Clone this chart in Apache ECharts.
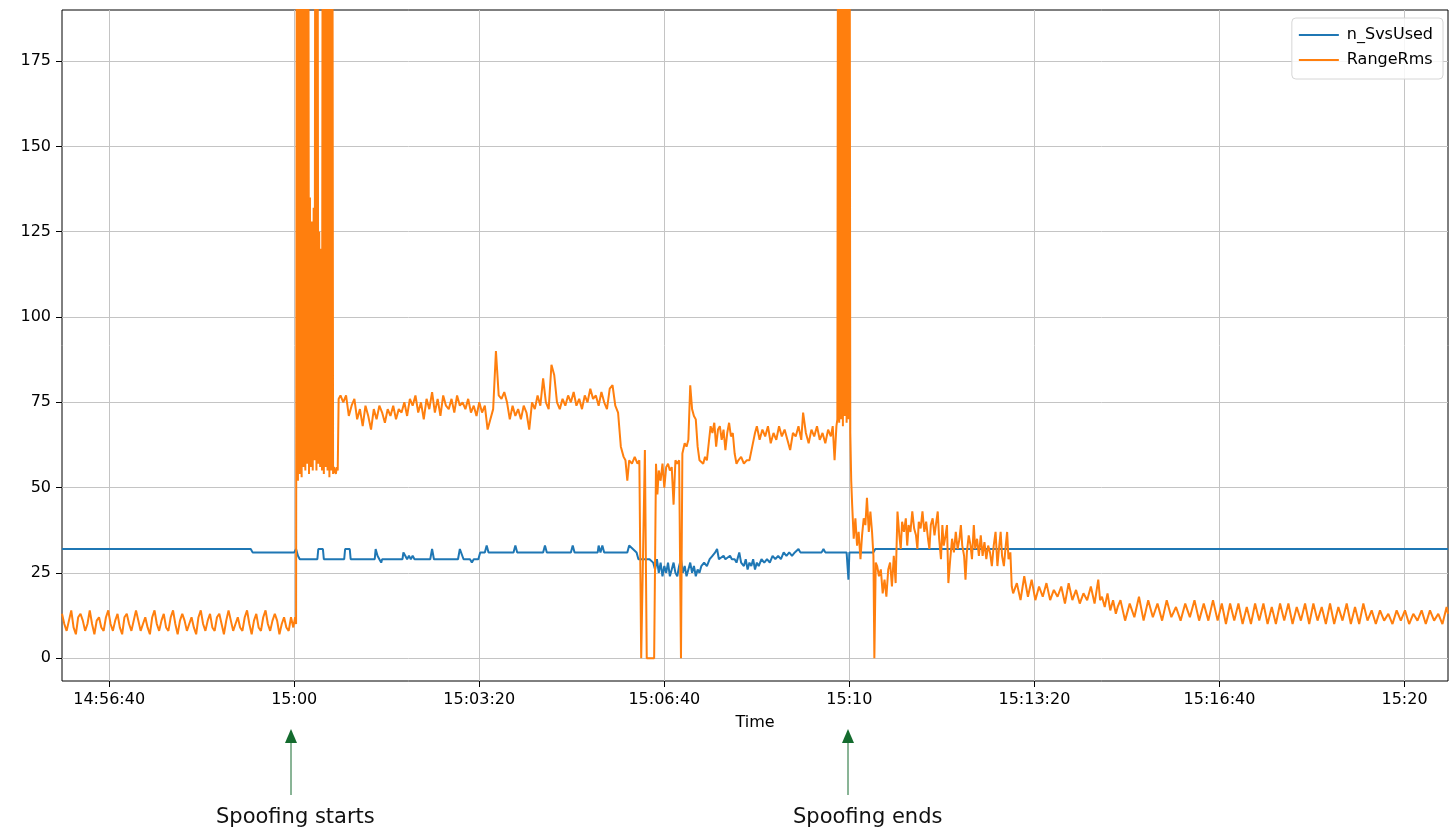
<!DOCTYPE html>
<html><head><meta charset="utf-8">
<script src="https://cdn.jsdelivr.net/npm/echarts@6/dist/echarts.min.js"></script>
<style>html,body{margin:0;padding:0;background:#fff}#c{width:1450px;height:829px}</style>
</head><body><div id="c"></div>
<script>
// Time is in seconds relative to 15:00:00
const xTickValues = [-200, 0, 200, 400, 600, 800, 1000, 1200];
const xTickLabels = ['14:56:40', '15:00', '15:03:20', '15:06:40', '15:10', '15:13:20', '15:16:40', '15:20'];
const yTickValues = [0, 25, 50, 75, 100, 125, 150, 175];
const seriesNames = ['n_SvsUsed', 'RangeRms'];
const annotations = [
  { label: 'Spoofing starts', t: -4 },
  { label: 'Spoofing ends', t: 599 }
];

// n_SvsUsed : [t, value]
const svsUsed = [
  [-251,32],[-47,32],[-45,31],[0,31],[2,32],[4,30],[6,29],
  [25,29],[26,32],[31,32],[32,29],
  [54,29],[55,32],[60,32],[61,29],
  [87,29],[88,32],[90,30],[92,29],[94,28],[95,29],
  [117,29],[118,31],[120,30],[122,29],[124,30],[126,29],[128,30],[130,29],
  [147,29],[149,32],[151,29],
  [177,29],[179,32],[181,32],[183,29],
  [190,29],[192,28],[194,29],[199,29],[201,31],
  [206,31],[208,33],[210,31],
  [237,31],[239,33],[241,31],
  [269,31],[271,33],[273,31],
  [299,31],[301,33],[303,31],
  [328,31],[329,33],[331,31],[333,33],[335,31],
  [360,31],[362,33],[366,32],[370,31],[372,29],
  [384,29],[388,28],[390,26],[392,29],[394,25],[396,28],[398,24],[400,27],[402,25],[404,28],[406,24],[408,26],
  [410,28],[412,25],[414,24],[416,27],[418,29],[420,25],[422,27],[424,24],[426,26],[428,28],[430,25],[432,27],
  [434,24],[436,26],[438,25],[440,27],[443,28],[446,27],[449,29],[452,30],[455,31],[457,32],[459,29],
  [461,29],[464,30],[466,29],[468,29],[471,30],[473,29],[476,29],[478,28],[481,31],[483,28],[486,27],[488,29],
  [490,26],[492,28],[494,27],[496,29],[498,26],[500,28],[502,27],[505,29],[508,28],[511,29],[514,28],[517,30],
  [520,29],[523,30],[526,29],[529,31],[532,30],[535,31],[538,30],[541,31],[545,32],[547,31],
  [570,31],[572,32],[574,31],[597,31],[599,23],[600,31],[626,31],[628,32],[1247,32]
];

// RangeRms, quiet period before spoofing (start, step, values)
const rmsBeforeStart = -251, rmsBeforeStep = 2.5;
const rmsBefore = [
  13,10,8,11, 14,9,7,12, 13,11,8,10, 14,10,7,11, 12,9,8,12, 14,10,8,11, 13,9,7,12, 13,10,8,11, 14,11,8,10, 12,9,7,12,
  14,10,8,11, 13,9,8,12, 14,10,7,11, 13,11,8,10, 12,9,7,12, 14,10,8,11, 13,9,8,12, 13,10,7,11, 14,11,8,10, 12,9,8,12,
  14,10,7,11, 13,9,8,12, 14,10,8,11, 13,11,7,10, 12,9,8,12
];
const rmsOnset = [[-1,9],[1,12],[2,10]];
// spoofing burst
const rmsBurstStart = 3, rmsBurstStep = 1;
const rmsBurst = [300,52,300,54,300,53,300,56,300,55,300,57,300,54,135,56,128,55,132,58,300,55,300,57,125,56,120,55,300,54,300,56,300,55,300,53,300,55,300,54,56,55,54,56,55,76];
// during spoofing
const rmsDuringStart = 50, rmsDuringStep = 3;
const rmsDuring = [77,75,77,71,74,76,70,73,68,74,71,67,73,70,74,72,69,73,71,74,70,73,72,75,71,76,74,77,72,75,70,76,73,78,72,76,71,77,74,73,76,72,77,74,75,73,76,72,74,71,75,
  72,74,67,70,73,90,77,76,78,75,70,74,71,73,70,74,72,67,75,73,77,74,82,75,73,86,83,75,73,76,74,77,75,78,74,76,73,77,75,79,76,77,74,78,75,73,79,80,74,72];
const rmsDrop = [
  [353,62],[356,59],[358,58],[360,52],[362,58],[365,57],[368,59],[371,57],[373,58],[375,0],[377,0],[379,61],[381,0],[389,0],
  [391,57],[392.5,48],[394,55],[396,52],[398,57],[400,50],[402,56],[404,57],[406,55],[408,56],[410,45],[412,58],[414,57],[416,58],
  [418,0],[419.5,60],[422,63],[424,62],[426,64],[428,80],[430,73],[432,71],[434,70],[436,62],[438,58],[440,58],[442,57],[444,59],
  [446,58],[448,63],[450,68],[452,66],[454,69],[456,62],[458,67],[460,68],[462,64],[464,67],[466,61],[468,66],[470,69],[472,65],
  [474,66],[476,60],[478,57],[480,58],[483,59],[486,57],[489,58],[492,58],[495,62],[498,66],[500,68],
  [503,64],[506,67],[509,65],[512,68],[515,63],[518,66],[521,64],[524,68],[527,65],[530,67],[533,64],[536,61],[539,66],[542,65],
  [545,68],[548,64],[550,72],[553,66],[556,63],[559,67],[562,65],[565,68],[568,64],[571,66],[574,63],[577,67],[580,65],[582,68],
  [584,58],[586,68],[587,70]
];
// second burst and end of spoofing
const rmsEnd = [
  [588,300],[589,69],[590,300],[591,70],[592,300],[593,68],[594,300],[595,71],[596,300],[597,69],[598,300],[599,70],[600,300],
  [601,66],[602,52],[603,45],[604.7,35],[606.5,41],[608.3,33],[610,37],[612,29],[613.7,36],[615.5,41],[617.3,39],[619,47],[621,37],
  [622.7,43],[624.5,37],[626,30],[627,0],[628.5,28],[630,27],[632,24],[634,26],[636,19],[638,23],[640,18],[642,26],[644,28],[646,21],
  [648,30],[650,22],[652,43],[654,36],[655.5,32],[657,40],[659,37],[661,41],[662.5,33],[664,39],[666,37],[668,43],[670,38],[672,36],
  [673.5,32],[675,40],[677,38],[679,43],[681,37],[683,40],[685,35],[686.5,32],[688,39],[690,41],[692,36],[694,40],[695.5,43],[697,35],
  [699,29],[700.5,39],[702,33],[704,36],[705.5,39],[707,22],[709,29],[711,35],[713,31],[715,37],[717,32],[719,35],[720.5,39],[722,33],
  [724,30],[725.5,23],[727,31],[729,36],[731,33],[732.5,29],[734.5,39],[736,32],[738,35],[740,30],[742,36],[744,30],[746,34],[748,29],
  [750,33],[752,31],[754,27],[756,33],[758,37],[760,27],[762,33],[763.5,37],[765,30],[767,27],[769,33],[770.5,37],[772,29],[774,31],[775.5,21]
];
const rmsTail1Start = 777, rmsTail1Step = 4;
const rmsTail1 = [19,22,17,24,18,23,17,21,18,22,17,20,18,21,16,22,17,20,16,19,17,21,16,23];
const rmsTailDecline = [[871,17],[873,18],[876,15],[879,19],[882,14],[885,17],[888,13],[890,15]];
const rmsTail2Start = 893, rmsTail2Step = 5;
const rmsTail2 = [17,11,16,12,18,11,17,12,16,11,17,12,15,11,16,12,17,11,16,11,17,11];
const rmsTail3Start = 1002.5, rmsTail3Step = 4.5;
const rmsTail3 = [16,10,16,11,16,10,15,10,16,11,16,10,15,10,16,11,16,10,15,11,16,10,16,11,15,10,16,10,15,11,16,10,15,10,16];
const rmsTail4Start = 1160, rmsTail4Step = 4.5;
const rmsTail4 = [11,14,10,14,11,13,10,14,11,14,10,13,11,14,10,14,11,13,10,15];
const rmsLast = [[1247,13]];

function regular(t0, step, vals) { return vals.map((v, i) => [t0 + i * step, v]); }
const rangeRms = [].concat(
  regular(rmsBeforeStart, rmsBeforeStep, rmsBefore), rmsOnset,
  regular(rmsBurstStart, rmsBurstStep, rmsBurst),
  regular(rmsDuringStart, rmsDuringStep, rmsDuring), rmsDrop, rmsEnd,
  regular(rmsTail1Start, rmsTail1Step, rmsTail1), rmsTailDecline,
  regular(rmsTail2Start, rmsTail2Step, rmsTail2),
  regular(rmsTail3Start, rmsTail3Step, rmsTail3),
  regular(rmsTail4Start, rmsTail4Step, rmsTail4), rmsLast
);

const FONT = 'DejaVu Sans';
const chart = echarts.init(document.getElementById('c'), null, { renderer: 'canvas' });
const option = {
  animation: false,
  backgroundColor: '#fff',
  grid: { left: 62, right: 2, top: 10, bottom: 148, show: true, borderColor: '#000', borderWidth: 1, backgroundColor: 'transparent' },
  xAxis: {
    type: 'value', min: -251, max: 1247,
    name: 'Time', nameLocation: 'middle', nameGap: 34,
    nameTextStyle: { fontFamily: FONT, fontSize: 16, color: '#000' },
    axisLine: { show: false, onZero: false },
    axisTick: { show: true, length: 6, lineStyle: { color: '#000' }, customValues: xTickValues },
    axisLabel: { customValues: xTickValues, margin: 11, fontFamily: FONT, fontSize: 16, color: '#000',
      formatter: v => xTickLabels[xTickValues.indexOf(v)] },
    splitLine: { show: true, lineStyle: { color: '#c4c4c4', width: 1 } }
  },
  yAxis: {
    type: 'value', min: -6.7, max: 190,
    axisLine: { show: false, onZero: false },
    axisTick: { show: true, length: 6, lineStyle: { color: '#000' }, customValues: yTickValues },
    axisLabel: { customValues: yTickValues, margin: 11, fontFamily: FONT, fontSize: 16, color: '#000' },
    splitLine: { show: true, lineStyle: { color: '#c4c4c4', width: 1 } }
  },
  legend: {
    orient: 'vertical', right: 7, top: 18,
    icon: 'rect', itemWidth: 40, itemHeight: 2, itemGap: 9,
    padding: [9, 10, 11, 7],
    borderColor: '#d6d6d6', borderWidth: 1, borderRadius: 4,
    backgroundColor: 'rgba(255,255,255,0.85)',
    textStyle: { fontFamily: FONT, fontSize: 16, color: '#000', padding: [0, 0, 0, 3] },
    data: seriesNames
  },
  series: [
    { name: seriesNames[0], type: 'line', data: svsUsed, symbol: 'none', showSymbol: false,
      lineStyle: { color: '#1f77b4', width: 2 }, itemStyle: { color: '#1f77b4' }, clip: true },
    { name: seriesNames[1], type: 'line', data: rangeRms, symbol: 'none', showSymbol: false,
      lineStyle: { color: '#ff7f0e', width: 2 }, itemStyle: { color: '#ff7f0e' }, clip: true }
  ]
};
chart.setOption(option);

// annotations below the axis
const GREEN = '#146b2e';
const textOffsets = [-75, -55];
const gfx = [];
annotations.forEach((a, i) => {
  const x = Math.round(chart.convertToPixel({ xAxisIndex: 0 }, a.t));
  gfx.push({ type: 'line', shape: { x1: x, y1: 795, x2: x, y2: 741 }, style: { stroke: GREEN, lineWidth: 1 } });
  gfx.push({ type: 'polygon', shape: { points: [[x, 729], [x - 6, 743], [x + 6, 743]] }, style: { fill: GREEN } });
  gfx.push({ type: 'text', x: x + textOffsets[i], y: 818,
    style: { text: a.label, fontFamily: FONT, fontSize: 21, fill: '#111', verticalAlign: 'middle', align: 'left' } });
});
chart.setOption({ graphic: gfx });
</script></body></html>
